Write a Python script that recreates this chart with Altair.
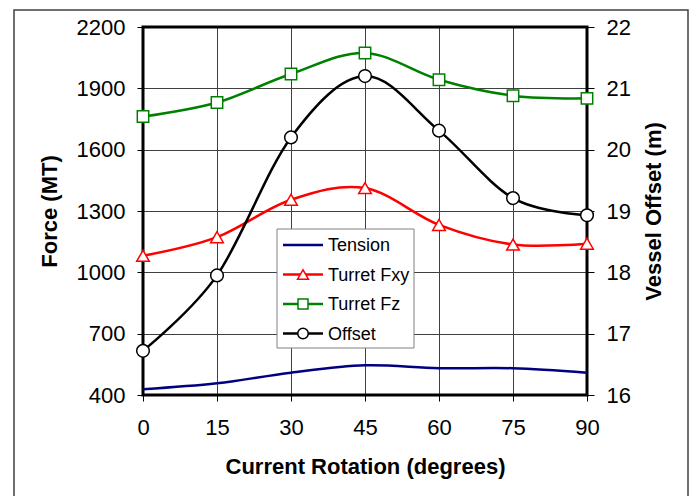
import altair as alt
import pandas as pd

rotation = [0, 15, 30, 45, 60, 75, 90]
tension = [428, 457, 509, 545, 531, 531, 509]
turret_fxy = [1081, 1172, 1355, 1412, 1232, 1136, 1140]
turret_fz = [1762, 1831, 1970, 2073, 1942, 1864, 1851]
offset = [16.72, 17.95, 20.2, 21.2, 20.31, 19.21, 18.93]

force_ticks = [400, 700, 1000, 1300, 1600, 1900, 2200]
offset_ticks = [16, 17, 18, 19, 20, 21, 22]

series_names = ["Tension", "Turret Fxy", "Turret Fz", "Offset"]
series_colors = ["#000080", "#FF0000", "#008000", "#000000"]
series_shapes = [None, "triangle-up", "square", "circle"]

FONT = "Arial, Liberation Sans, sans-serif"
FS = 22
W, H = 444, 368

df = pd.DataFrame({
    "rotation": rotation,
    "tension": tension,
    "fxy": turret_fxy,
    "fz": turret_fz,
    "offset": offset,
})

base = alt.Chart(df)

x_enc = alt.X(
    "rotation:Q",
    scale=alt.Scale(domain=[0, 90], nice=False, zero=False),
    axis=alt.Axis(
        values=rotation, title="Current Rotation (degrees)", grid=True,
        gridColor="#404040", gridWidth=1, gridOpacity=1,
        domain=False, tickColor="black", tickSize=6, tickWidth=1,
        labelPadding=16, titlePadding=18, labelFontSize=FS, titleFontSize=FS,
        labelFont=FONT, titleFont=FONT, labelColor="black", titleColor="black",
        titleFontWeight="bold", format="d", labelFlush=False,
    ),
)

left_axis = alt.Axis(
    values=force_ticks, title="Force (MT)", grid=True, orient="left",
    gridColor="#404040", gridWidth=1, gridOpacity=1,
    domain=False, tickColor="black", tickSize=6, tickWidth=1,
    labelPadding=12, titlePadding=15, labelFontSize=FS, titleFontSize=FS,
    labelFont=FONT, titleFont=FONT, labelColor="black", titleColor="black",
    titleFontWeight="bold", format="d", labelFlush=False,
)
left_scale = alt.Scale(domain=[400, 2200], nice=False, zero=False)

right_axis = alt.Axis(
    values=offset_ticks, title="Vessel Offset (m)", grid=False, orient="right",
    domain=False, tickColor="black", tickSize=7, tickWidth=1,
    labelPadding=12, titlePadding=13, labelFontSize=FS, titleFontSize=FS,
    labelFont=FONT, titleFont=FONT, labelColor="black", titleColor="black",
    titleFontWeight="bold", format="d", titleAngle=270, titleBaseline="top",
    labelFlush=False,
)
right_scale = alt.Scale(domain=[16, 22], nice=False, zero=False)

one = alt.Data(values=[{}])

outer_frame = alt.Chart(one).mark_rect(filled=False, stroke="#404040", strokeWidth=1.5).encode(
    x=alt.value(-129), x2=alt.value(545), y=alt.value(-17), y2=alt.value(530)
)
plot_frame = alt.Chart(one).mark_rect(filled=False, stroke="black", strokeWidth=3).encode(
    x=alt.value(0), x2=alt.value(W), y=alt.value(0), y2=alt.value(H)
)

interp = "cardinal"

tension_line = base.mark_line(color=series_colors[0], strokeWidth=2.5, interpolate=interp).encode(
    x=x_enc, y=alt.Y("tension:Q", scale=left_scale, axis=left_axis)
)
fxy_line = base.mark_line(
    color=series_colors[1], strokeWidth=2.5, interpolate=interp,
    point=alt.OverlayMarkDef(shape="triangle-up", size=160, filled=True, fill="white",
                             stroke=series_colors[1], strokeWidth=1.5, opacity=1),
).encode(x=x_enc, y=alt.Y("fxy:Q", scale=left_scale, axis=left_axis))
fz_line = base.mark_line(
    color=series_colors[2], strokeWidth=2.5, interpolate=interp,
    point=alt.OverlayMarkDef(shape="square", size=130, filled=True, fill="white",
                             stroke=series_colors[2], strokeWidth=1.5, opacity=1),
).encode(x=x_enc, y=alt.Y("fz:Q", scale=left_scale, axis=left_axis))

left = alt.layer(outer_frame, plot_frame, tension_line, fxy_line, fz_line)

offset_line = base.mark_line(
    color=series_colors[3], strokeWidth=2.5, interpolate=interp,
    point=alt.OverlayMarkDef(shape="circle", size=160, filled=True, fill="white",
                             stroke=series_colors[3], strokeWidth=1.5, opacity=1),
).encode(x=x_enc, y=alt.Y("offset:Q", scale=right_scale, axis=right_axis))

# manual legend
legend_layers = [
    alt.Chart(one).mark_rect(fill="white", stroke="#808080", strokeWidth=1).encode(
        x=alt.value(134), x2=alt.value(271), y=alt.value(202), y2=alt.value(321)
    )
]
for i, (name, color, shape) in enumerate(zip(series_names, series_colors, series_shapes)):
    yy = 218 + 29.5 * i
    legend_layers.append(
        alt.Chart(one).mark_rule(color=color, strokeWidth=2.5).encode(
            x=alt.value(140), x2=alt.value(180), y=alt.value(yy)
        )
    )
    if shape:
        size = {"triangle-up": 120, "square": 100, "circle": 110}[shape]
        legend_layers.append(
            alt.Chart(one).mark_point(shape=shape, size=size, filled=True, fill="white",
                                      stroke=color, strokeWidth=1.5, opacity=1).encode(
                x=alt.value(160), y=alt.value(yy)
            )
        )
    legend_layers.append(
        alt.Chart(one).mark_text(align="left", baseline="middle", fontSize=18, font=FONT,
                                 color="black").encode(
            x=alt.value(185), y=alt.value(yy + 1), text=alt.value(name)
        )
    )

chart = alt.layer(left, offset_line, *legend_layers).resolve_scale(y="independent").properties(
    width=W, height=H,
    autosize=alt.AutoSizeParams(type="none"),
    padding={"left": 143, "top": 27, "right": 694 - 143 - W, "bottom": 496 - 27 - H},
    background="white",
).configure_view(stroke=None)

chart.save("out.html", embed_options={"renderer": "svg", "actions": False})
